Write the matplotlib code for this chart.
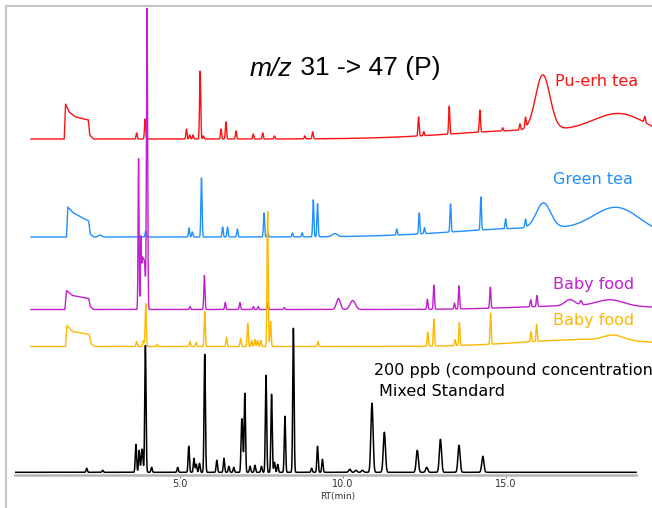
import numpy as np
import matplotlib
matplotlib.use("Agg")
import matplotlib.pyplot as plt
from matplotlib.lines import Line2D

# Peak tables (time in min, height in px above the trace baseline)
red_t = [3.67, 3.93, 5.20, 5.30, 5.40, 5.62, 5.72, 6.26, 6.41, 6.72, 7.25, 7.54, 7.90,
         8.83, 9.07, 12.32, 12.48, 13.26, 14.20, 14.90, 15.43, 15.60, 16.13, 16.00, 18.50, 19.26]
red_h = [6, 20, 10, 4, 4, 68, 3, 10, 17, 8, 5, 6, 3, 3, 7, 19, 4, 28, 22, 3, 6, 10, 55, 9, 20, 6]
red_w = [0.018] * 22 + [0.22, 2.5, 0.8, 0.02]
red_front_t = [1.45, 1.49, 1.60, 1.80, 2.19, 2.23, 2.35]
red_front_h = [0, 35, 27, 22, 19, 4, 0]

blue_t = [2.55, 3.95, 5.28, 5.38, 5.66, 6.31, 6.46, 6.76, 7.58, 7.70, 8.45, 8.75, 9.09, 9.22,
          9.75, 11.65, 12.34, 12.50, 13.30, 14.23, 14.99, 15.60, 16.15, 16.00, 18.40]
blue_h = [2, 6, 9, 5, 59, 10, 10, 8, 24, 4, 4, 4, 37, 33, 3, 6, 21, 6, 28, 33, 10, 8, 25, 9, 24]
blue_w = [0.05] + [0.018] * 13 + [0.08] + [0.018] * 7 + [0.22, 2.5, 0.7]
blue_front_t = [1.52, 1.56, 1.73, 2.20, 2.25, 2.35]
blue_front_h = [0, 30, 24, 16, 3, 0]

purple_t = [3.73, 3.80, 3.84, 3.87, 3.90, 3.93, 3.99, 5.31, 5.75, 6.39, 6.84, 7.25, 7.40, 7.70,
            8.20, 9.86, 10.30, 12.59, 12.79, 13.42, 13.56, 14.52, 15.76, 15.95, 16.96, 17.30,
            18.20, 17.50]
purple_h = [151, 70, 40, 32, 35, 28, 301, 3, 34, 7, 7, 3, 3, 6, 2, 11, 9, 10, 24, 6, 23, 21,
            7, 11, 6, 4, 6, 4]
purple_w = [0.015, 0.015] + [0.018] * 13 + [0.06, 0.08] + [0.018] * 7 + [0.15, 0.03, 0.4, 2.0]
purple_front_t = [1.47, 1.52, 1.70, 2.20, 2.25, 2.35]
purple_front_h = [0, 19, 14, 11, 3, 0]

yellow_t = [3.67, 3.88, 3.95, 4.30, 5.31, 5.50, 5.76, 6.43, 6.86, 7.08, 7.20, 7.30, 7.38, 7.48,
            7.69, 7.78, 9.24, 12.60, 12.79, 13.44, 13.57, 14.53, 15.77, 15.94, 17.50, 18.30]
yellow_h = [5, 6, 43, 2, 5, 4, 35, 9, 8, 23, 6, 7, 6, 6, 135, 25, 5, 14, 27, 6, 23, 31, 10, 17,
            7, 5]
yellow_w = [0.018] * 24 + [2.0, 0.3]
yellow_front_t = [1.49, 1.53, 1.70, 2.22, 2.27, 2.37]
yellow_front_h = [0, 21, 15, 12, 3, 0]

std_t = [2.14, 2.63, 3.65, 3.75, 3.82, 3.85, 3.94, 4.13, 4.93, 5.27, 5.43, 5.50, 5.60, 5.76,
         6.13, 6.35, 6.50, 6.65, 6.89, 6.92, 6.99, 7.15, 7.30, 7.50, 7.64, 7.81, 7.90, 8.00,
         8.22, 8.48, 9.04, 9.22, 9.37, 10.21, 10.40, 10.60, 10.89, 11.27, 12.28, 12.57, 12.99,
         13.56, 14.29]
std_h = [4, 2, 28, 22, 12, 18, 127, 5, 5, 26, 14, 8, 9, 118, 12, 14, 6, 5, 40, 30, 79, 6, 7, 6,
         97, 78, 10, 8, 56, 144, 4, 26, 13, 3, 2, 2, 69, 40, 22, 5, 33, 27, 16]
std_w = [0.02] * 33 + [0.033] * 10

tick_pos = [5.0, 10.0, 15.0]
tick_labels = ["5.0", "10.0", "15.0"]


def build_trace(t, base, times, heights, widths, front_t=None, front_h=None):
    y = np.full_like(t, float(base))
    for tp, h, w in zip(times, heights, widths):
        y += h * np.exp(-0.5 * ((t - tp) / w) ** 2)
    if front_t is not None:
        y += np.interp(t, front_t, front_h, left=0, right=0)
    return y


fig = plt.figure(figsize=(6.52, 5.08), dpi=100)
ax = fig.add_axes([15 / 652, (508 - 474.5) / 508, 637 / 652, 468.5 / 508])
ax.set_xlim(-0.06, 19.48)
ax.set_ylim(0, 468.5)

t_col = np.linspace(0.43, 19.5, 9000)
t_std = np.linspace(-0.06, 18.99, 9000)

traces = [
    (335.5, red_t, red_h, red_w, red_front_t, red_front_h, "#ff1010"),
    (237.5, blue_t, blue_h, blue_w, blue_front_t, blue_front_h, "#2090ff"),
    (165.0, purple_t, purple_h, purple_w, purple_front_t, purple_front_h, "#c21fcf"),
    (128.0, yellow_t, yellow_h, yellow_w, yellow_front_t, yellow_front_h, "#ffb800"),
]
for z, (base, tt, hh, ww, ft, fh, col) in enumerate(traces):
    ax.plot(t_col, build_trace(t_col, base, tt, hh, ww, ft, fh), color=col, lw=1.0, zorder=2 + z)

ax.plot(t_std, build_trace(t_std, 2.2, std_t, std_h, std_w), color="black", lw=1.1, zorder=7)

# axis styling
for s in ["top", "right", "left"]:
    ax.spines[s].set_visible(False)
ax.spines["bottom"].set_color("#b4b4b4")
ax.spines["bottom"].set_linewidth(1.8)
ax.spines["bottom"].set_bounds(-0.06, 18.99)
ax.set_yticks([])
ax.set_xticks(tick_pos)
ax.set_xticklabels(tick_labels, fontsize=7, color="#333333")
ax.tick_params(axis="x", length=2, width=0.6, color="#666666", pad=1.5)
ax.text(9.85, -22, "RT(min)", fontsize=6.5, color="#333333", ha="center", va="center")

# labels
t1 = ax.text(7.15, 406, "m/z", fontsize=19, fontstyle="italic", family="Liberation Sans",
             ha="left", va="center")
ax.annotate(" 31 -> 47 (P)", xy=(1, 0), xycoords=t1, fontsize=19, family="Liberation Sans",
            ha="left", va="bottom")
ax.text(16.5, 393.5, "Pu-erh tea", color="#ff1010", fontsize=11.5, va="center")
ax.text(16.45, 294.5, "Green tea", color="#2090ff", fontsize=11.5, va="center")
ax.text(16.43, 190.5, "Baby food", color="#c21fcf", fontsize=11.5, va="center")
ax.text(16.45, 153.5, "Baby food", color="#ffb800", fontsize=11.5, va="center")
ax.text(10.96, 104.5, "200 ppb (compound concentration", fontsize=11.5, va="center")
ax.text(11.1, 82.5, "Mixed Standard", fontsize=11.5, va="center")

# outer frame (left and top edges only)
fig.add_artist(Line2D([6 / 652, 6 / 652], [0, 502 / 508], color="#c4c4c4", lw=1.5))
fig.add_artist(Line2D([6 / 652, 1], [502 / 508, 502 / 508], color="#c4c4c4", lw=1.5))

fig.savefig("out.png", dpi=100)
